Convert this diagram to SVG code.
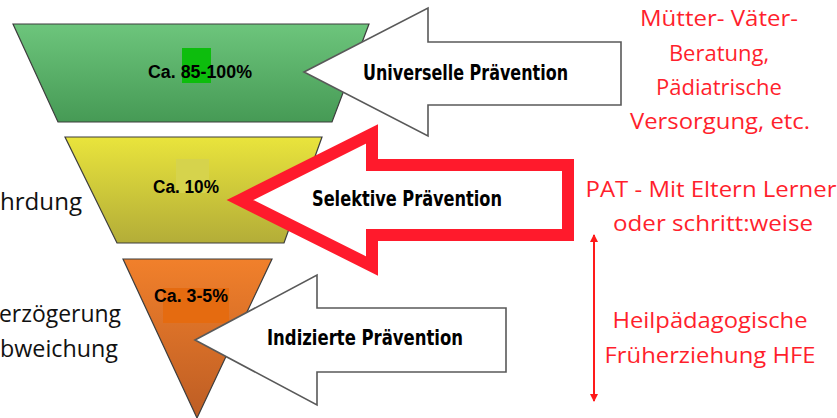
<svg xmlns="http://www.w3.org/2000/svg" width="837" height="418" viewBox="0 0 837 418">
<defs>
<linearGradient id="gGreen" x1="0" y1="0" x2="0" y2="1">
<stop offset="0" stop-color="#6dc57c"/><stop offset="1" stop-color="#469a55"/>
</linearGradient>
<linearGradient id="gYellow" x1="0" y1="0" x2="0" y2="1">
<stop offset="0" stop-color="#e9e43c"/><stop offset="1" stop-color="#b3ad38"/>
</linearGradient>
<linearGradient id="gOrange" x1="0" y1="0" x2="0" y2="1">
<stop offset="0" stop-color="#f1802b"/><stop offset="1" stop-color="#bd5d24"/>
</linearGradient>
<marker id="redHead" viewBox="0 0 8 8" refX="7" refY="4" markerWidth="4" markerHeight="4" orient="auto-start-reverse" markerUnits="strokeWidth">
<path d="M0,0 L8,4 L0,8 Z" fill="#ff1a1a"/>
</marker>
</defs>
<style>
.seg{stroke:#3d3d3d;stroke-width:1.2}
.pct{font-family:"Liberation Sans",Arial,sans-serif;font-weight:bold;font-size:18px;fill:#000}
.arr{fill:#fff;stroke:#595959;stroke-width:1.6}
.lbl{font-family:"Comic Sans MS","DejaVu Sans Condensed","DejaVu Sans",sans-serif;font-weight:bold;font-size:21px;fill:#000}
.side{font-family:"Open Sans","Noto Sans",sans-serif;font-size:24px;fill:#111}
.red{font-family:"Open Sans","Noto Sans",sans-serif;font-size:22px;fill:#ff1f2d;text-anchor:middle}
</style>
<rect width="837" height="418" fill="#fff"/>

<g id="funnel-top">
<polygon class="seg" points="13,24 369,24 332,122 58,122" fill="url(#gGreen)"/>
<rect x="182" y="48" width="29" height="35" fill="#0dbd0d"/>
<text class="pct" x="148" y="78" textLength="104" lengthAdjust="spacingAndGlyphs">Ca. 85-100%</text>
</g>

<g id="funnel-mid">
<polygon class="seg" points="65,137 322,137 284,243 117,243" fill="url(#gYellow)"/>
<rect x="176" y="159" width="33" height="34" fill="#d6d34c"/>
<text class="pct" x="153" y="193" textLength="66" lengthAdjust="spacingAndGlyphs">Ca. 10%</text>
</g>

<g id="funnel-bottom">
<polygon class="seg" points="123,259 272,259 197,418" fill="url(#gOrange)"/>
<rect x="163" y="288" width="66" height="35" fill="#e56b10"/>
<text class="pct" x="154" y="302" textLength="74" lengthAdjust="spacingAndGlyphs">Ca. 3-5%</text>
</g>

<g id="arrow-universell">
<polygon class="arr" points="304,72 428,8 428,42 621,42 621,105 428,105 428,136"/>
<text class="lbl" x="363" y="80" textLength="205" lengthAdjust="spacingAndGlyphs">Universelle Prävention</text>
</g>

<g id="arrow-selektiv">
<polygon points="240,200 372,134 372,165 568,165 568,235 372,235 372,266" fill="#fff" stroke="#ff1a2c" stroke-width="12" stroke-linejoin="miter" stroke-miterlimit="10"/>
<text class="lbl" x="312" y="206" textLength="190" lengthAdjust="spacingAndGlyphs">Selektive Prävention</text>
</g>

<g id="arrow-indiziert">
<polygon class="arr" points="195,340 317,275 317,308 506,308 506,372 317,372 317,405"/>
<text class="lbl" x="267" y="345" textLength="196" lengthAdjust="spacingAndGlyphs">Indizierte Prävention</text>
</g>

<g id="left-labels">
<text class="side" x="0" y="210" textLength="82" lengthAdjust="spacingAndGlyphs">hrdung</text>
<text class="side" x="-1" y="322" textLength="122" lengthAdjust="spacingAndGlyphs">erzögerung</text>
<text class="side" x="0" y="357" textLength="118" lengthAdjust="spacingAndGlyphs">bweichung</text>
</g>

<g id="note-universell">
<text class="red" x="719" y="26" textLength="158" lengthAdjust="spacingAndGlyphs">Mütter- Väter-</text>
<text class="red" x="719" y="61">Beratung,</text>
<text class="red" x="719" y="95">Pädiatrische</text>
<text class="red" x="720" y="129" textLength="180" lengthAdjust="spacingAndGlyphs">Versorgung, etc.</text>
</g>

<g id="note-selektiv">
<text class="red" x="711" y="197" textLength="251" lengthAdjust="spacingAndGlyphs">PAT - Mit Eltern Lerner</text>
<text class="red" x="713" y="231" textLength="200" lengthAdjust="spacingAndGlyphs">oder schritt:weise</text>
</g>

<g id="note-indiziert">
<text class="red" x="710" y="328" textLength="195" lengthAdjust="spacingAndGlyphs">Heilpädagogische</text>
<text class="red" x="710" y="363" textLength="211" lengthAdjust="spacingAndGlyphs">Früherziehung HFE</text>
</g>

<g id="connectors">
<line x1="594" y1="235" x2="594" y2="401" stroke="#ff1a1a" stroke-width="2" marker-start="url(#redHead)" marker-end="url(#redHead)"/>
</g>
</svg>
